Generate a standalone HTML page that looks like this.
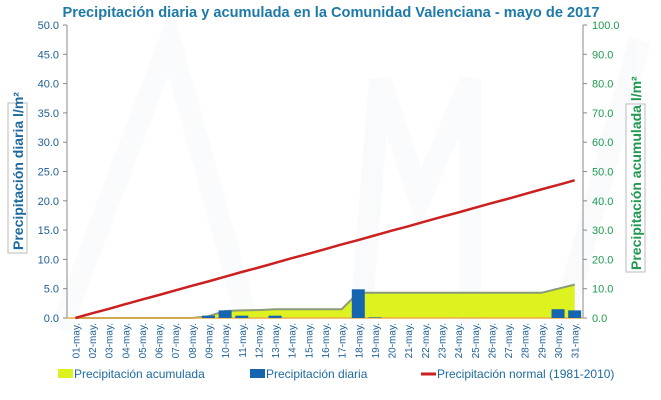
<!DOCTYPE html>
<html><head><meta charset="utf-8"><style>
body{margin:0;background:#fff}
svg{display:block;font-family:"Liberation Sans",sans-serif}
</style></head><body>
<svg id="c" width="661" height="400" xmlns="http://www.w3.org/2000/svg">
<g opacity="0.04" fill="none" stroke="#7090b0" stroke-width="22">
<path d="M60 330 L170 40 L250 330"/><path d="M360 330 L380 80 L420 200 L470 80 L470 330"/>
<path d="M560 330 L640 40"/>
</g>
<text x="331" y="17" text-anchor="middle" font-size="14.6" font-weight="bold" fill="#1d7aa8">Precipitación diaria y acumulada en la Comunidad Valenciana - mayo de 2017</text>
<g id="axes"></g>
<g id="marks"></g>
<g>
<rect x="8" y="103" width="19" height="150" fill="#fff" stroke="#bbb" stroke-width="1"/>
<text transform="translate(23,250) rotate(-90)" font-size="14" font-weight="bold" fill="#1d6aa0">Precipitación diaria l/m²</text>
</g>
<g>
<rect x="626" y="104" width="19" height="168" fill="#fff" stroke="#bbb" stroke-width="1"/>
<text transform="translate(641,270) rotate(-90)" font-size="14" font-weight="bold" fill="#1f9a50">Precipitación acumulada l/m²</text>
</g>
<g>
<g><rect x="58" y="369" width="15" height="9" fill="#ddf21e"/><text x="74" y="378" font-size="12" fill="#1d6aa0">Precipitación acumulada</text></g>
<g><rect x="250" y="369" width="15" height="9" fill="#1565b0"/><text x="266" y="378" font-size="12" fill="#1d6aa0">Precipitación diaria</text></g>
<g><line x1="421" y1="374" x2="436" y2="374" stroke="#cc1f1f" stroke-width="3"/><text x="437" y="378" font-size="12" fill="#1d6aa0">Precipitación normal (1981-2010)</text></g>
</g>
</svg>
<script>
const days = ["01","02","03","04","05","06","07","08","09","10","11","12","13","14","15","16","17","18","19","20","21","22","23","24","25","26","27","28","29","30","31"];
const daily = [0,0,0,0,0,0,0,0,0.4,1.3,0.4,0,0.4,0,0,0,0,4.9,0.1,0,0,0,0,0,0,0,0,0,0,1.5,1.3];
const accum = [0,0,0,0,0,0,0,0,0.6,2.4,2.6,2.7,3.0,3.0,3.0,3.0,3.0,8.6,8.6,8.6,8.6,8.6,8.6,8.6,8.6,8.6,8.6,8.6,8.6,10.0,11.4];
const normal = [0,1.6,3.1,4.7,6.3,7.8,9.4,11.0,12.5,14.1,15.7,17.2,18.8,20.4,21.9,23.5,25.1,26.6,28.2,29.8,31.3,32.9,34.5,36.0,37.6,39.2,40.7,42.3,43.9,45.4,47.0];
const leftTicks = [0,5,10,15,20,25,30,35,40,45,50];
const rightTicks = [0,10,20,30,40,50,60,70,80,90,100];

const NS="http://www.w3.org/2000/svg";
const L=67,R=583,T=25,B=318;
const bw=(R-L)/days.length;
const xc=i=>L+bw*(i+0.5);
const yl=v=>B-(v/50)*(B-T);
const yr=v=>B-(v/100)*(B-T);
function mk(tag,attrs,parent,txt){const e=document.createElementNS(NS,tag);for(const k in attrs)e.setAttribute(k,attrs[k]);if(txt!==undefined)e.textContent=txt;parent.appendChild(e);return e;}
const ax=document.getElementById('axes'),mg=document.getElementById('marks');

let l1=mk('line',{x1:L,y1:T,x2:L,y2:B,stroke:'#888'},ax);


let l2=mk('line',{x1:R,y1:T,x2:R,y2:B,stroke:'#888'},ax);


leftTicks.forEach(v=>{
  mk('line',{x1:L-4,y1:yl(v),x2:L,y2:yl(v),stroke:'#888'},ax);
  let t=mk('text',{x:L-8,y:yl(v)+4,'text-anchor':'end','font-size':'11',fill:'#1d5f96'},ax,v.toFixed(1));
  
  
});
rightTicks.forEach(v=>{
  mk('line',{x1:R,y1:yr(v),x2:R+4,y2:yr(v),stroke:'#888'},ax);
  let t=mk('text',{x:R+9,y:yr(v)+4,'font-size':'11',fill:'#1f9a50'},ax,v.toFixed(1));
  
  
});
days.forEach((d,i)=>{
  let t=mk('text',{transform:`translate(${xc(i)+4},${B+5}) rotate(-90)`,'text-anchor':'end','font-size':'10',fill:'#1d5f96'},ax,d+'-may.');
  
  
});

let pts=accum.map((v,i)=>`${xc(i)},${yr(v)}`);
let area=mk('polygon',{points:`${xc(0)},${B} ${pts.join(' ')} ${xc(accum.length-1)},${B}`,fill:'#ddf21e'},mg);


let aline=mk('polyline',{points:pts.join(' '),fill:'none',stroke:'#8a9a7a','stroke-width':'2'},mg);


mk('line',{x1:L,y1:B,x2:R,y2:B,stroke:'#e8b040','stroke-width':'1.5'},mg);

daily.forEach((v,i)=>{
  if(v<=0)return;
  let r=mk('rect',{x:xc(i)-6.5,y:yl(v),width:13,height:B-yl(v),fill:'#1565b0'},mg);
  
  
});

let nl=mk('polyline',{points:normal.map((v,i)=>`${xc(i)},${yr(v)}`).join(' '),fill:'none',stroke:'#cc1f1f','stroke-width':'2.5'},mg);


</script>
</body></html>
